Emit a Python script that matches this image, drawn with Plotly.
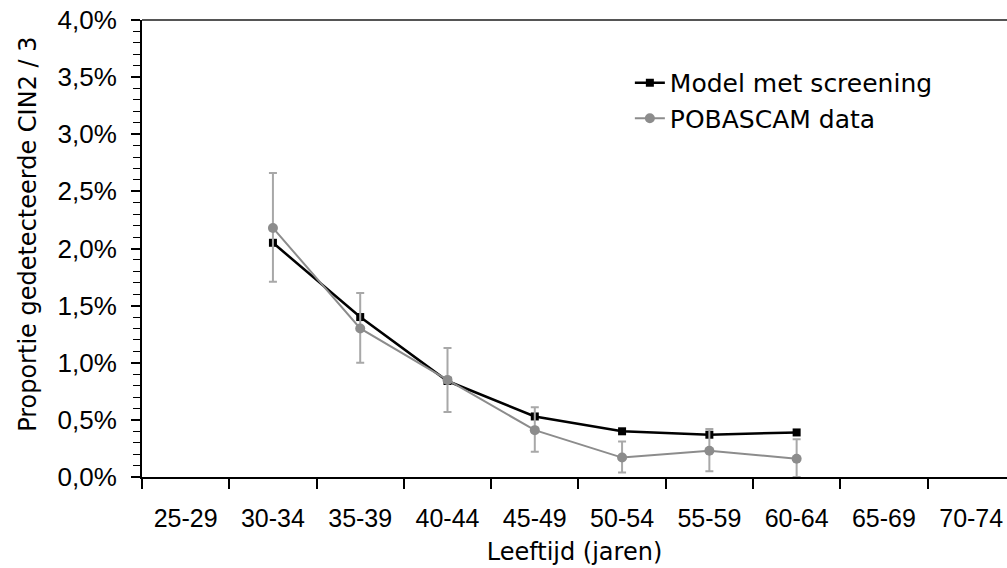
import plotly.graph_objects as go

categories = ["25-29", "30-34", "35-39", "40-44", "45-49", "50-54", "55-59", "60-64", "65-69", "70-74"]

model_x = ["30-34", "35-39", "40-44", "45-49", "50-54", "55-59", "60-64"]
model_y = [2.05, 1.40, 0.84, 0.53, 0.40, 0.37, 0.39]

pob_x = ["30-34", "35-39", "40-44", "45-49", "50-54", "55-59", "60-64"]
pob_y = [2.18, 1.30, 0.85, 0.41, 0.17, 0.23, 0.16]
pob_upper = [2.66, 1.61, 1.13, 0.61, 0.31, 0.42, 0.33]
pob_lower = [1.71, 1.00, 0.57, 0.22, 0.04, 0.05, 0.00]

err_plus = [u - v for u, v in zip(pob_upper, pob_y)]
err_minus = [v - l for v, l in zip(pob_y, pob_lower)]

fig = go.Figure()

fig.add_trace(go.Scatter(
    x=model_x, y=model_y, name="Model met screening", mode="lines+markers",
    legendgroup="a",
    line=dict(color="black", width=2.5),
    marker=dict(symbol="square", size=8, color="black"),
))
fig.add_trace(go.Scatter(
    x=pob_x, y=pob_y, name="POBASCAM data", mode="lines+markers",
    legendgroup="b",
    line=dict(color="#8c8c8c", width=2),
    marker=dict(symbol="circle", size=10, color="#8c8c8c"),
    error_y=dict(type="data", symmetric=False, array=err_plus, arrayminus=err_minus,
                 color="#a8a8a8", thickness=2, width=4),
))

fig.update_layout(
    width=1007, height=568,
    margin=dict(l=142, r=0, t=20, b=91),
    paper_bgcolor="white", plot_bgcolor="white",
    separators=",.",
    showlegend=True,
    legend=dict(x=0.564, y=0.9125, xanchor="left", yanchor="top",
                traceorder="grouped",
                font=dict(family="DejaVu Sans", size=25, color="black"),
                bgcolor="rgba(0,0,0,0)", itemwidth=30, tracegroupgap=0),
    font=dict(family="Liberation Sans", color="black"),
    shapes=[dict(type="line", xref="paper", yref="paper", x0=0, x1=1, y0=1, y1=1,
                 line=dict(color="#555555", width=2))],
    annotations=[dict(text="Proportie gedetecteerde CIN2 / 3", textangle=-90,
                      xref="paper", yref="paper", x=-0.1318, y=0.532,
                      xanchor="center", yanchor="middle", showarrow=False,
                      font=dict(family="DejaVu Sans", size=24, color="black"))],
)

fig.update_xaxes(
    type="category", categoryorder="array", categoryarray=categories,
    range=[-0.5, 9.41],
    showline=True, linecolor="black", linewidth=2,
    ticks="outside", tickson="boundaries", ticklen=10, tickcolor="black", tickwidth=1.5,
    showgrid=False, zeroline=False,
    tickfont=dict(family="Liberation Sans", size=25, color="black"),
    ticklabelstandoff=18, ticklabeloverflow="allow",
    title=dict(text="Leeftijd (jaren)", font=dict(family="DejaVu Sans", size=24, color="black"), standoff=12),
)

fig.update_yaxes(
    range=[0, 4], tickmode="linear", tick0=0, dtick=0.5,
    tickformat=".1f", ticksuffix="%",
    showline=True, linecolor="black", linewidth=2,
    ticks="outside", ticklen=9, tickcolor="black", tickwidth=1.5,
    minor=dict(ticks="outside", dtick=0.1, ticklen=7, tickcolor="black", tickwidth=1),
    showgrid=False, zeroline=False,
    tickfont=dict(family="Liberation Sans", size=26, color="black"),
    ticklabelstandoff=9, ticklabeloverflow="allow",
)

fig.write_html("out.html", config={"displayModeBar": False},
               post_script="document.body.style.margin='0px';document.body.style.overflow='hidden';")
